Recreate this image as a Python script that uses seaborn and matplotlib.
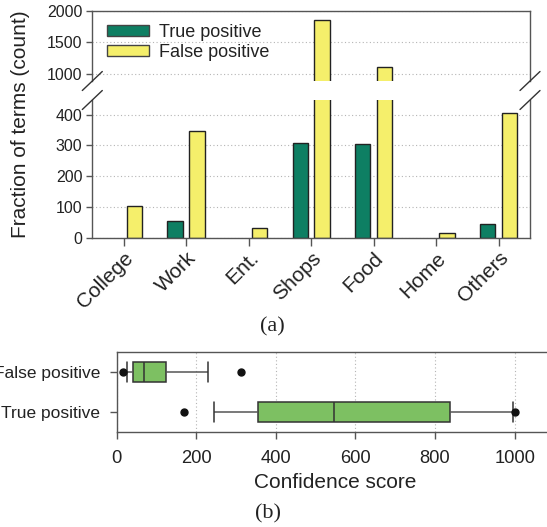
import matplotlib
matplotlib.use("Agg")
import matplotlib.pyplot as plt
from matplotlib.lines import Line2D
import pandas as pd
import seaborn as sns

# ---- data -------------------------------------------------------------
categories = ["College", "Work", "Ent.", "Shops", "Food", "Home", "Others"]
true_pos = [0, 54, 0, 307, 305, 0, 44]
false_pos = [103, 346, 32, 1852, 1113, 14, 405]
series_names = ["True positive", "False positive"]

# confidence scores per detection outcome
fp_scores = [15, 25, 40, 69, 69, 69, 125, 229, 313]
tp_scores = [169, 244, 354, 546, 546, 546, 837, 996, 1000]

# ---- style ------------------------------------------------------------
sns.set_theme(style="ticks")
plt.rcParams["font.family"] = ["Liberation Sans", "DejaVu Sans"]
plt.rcParams["text.color"] = "#222222"
plt.rcParams["axes.labelcolor"] = "#222222"

W, H = 547, 527
fig = plt.figure(figsize=(W / 100, H / 100), dpi=100)


def px_rect(x0, y0, x1, y1):
    """Axes rectangle from pixel corners (top-left origin)."""
    return [x0 / W, 1 - y1 / H, (x1 - x0) / W, (y1 - y0) / H]


ax_top = fig.add_axes(px_rect(92.3, 10.7, 530, 81))
ax_bot = fig.add_axes(px_rect(92.3, 100, 530, 237.7))
ax_box = fig.add_axes(px_rect(116.7, 352.3, 554.4, 432.3))

bars = pd.DataFrame({
    "category": categories * 2,
    "count": true_pos + false_pos,
    "kind": [series_names[0]] * len(categories) + [series_names[1]] * len(categories),
})
palette = {series_names[0]: "#0e7f63", series_names[1]: "#f5ef6b"}

spine_c = "#555555"
grid_kw = dict(linestyle=(0, (1, 2.2)), color="#b5b5b5", linewidth=0.8)

for ax in (ax_top, ax_bot):
    sns.barplot(data=bars, x="category", y="count", hue="kind",
                order=categories, hue_order=series_names, palette=palette,
                width=0.7, gap=0.3, saturation=1, errorbar=None,
                edgecolor="#222222", linewidth=1.0,
                legend=(ax is ax_top), ax=ax)
    # empty categories get no outline
    for p in ax.patches:
        if p.get_height() == 0:
            p.set_linewidth(0)
    ax.set_axisbelow(True)
    ax.yaxis.grid(True, **grid_kw)
    ax.set_xlim(-0.5, len(categories) - 0.5)
    ax.set_xlabel("")
    ax.set_ylabel("")
    for s in ax.spines.values():
        s.set_color(spine_c)
        s.set_linewidth(1.0)
    ax.tick_params(axis="y", length=4, width=1, color=spine_c,
                   labelsize=11.5, pad=3, labelcolor="#222222")

# upper panel (large counts)
ax_top.set_ylim(890, 2000)
ax_top.set_yticks([1000, 1500, 2000])
ax_top.spines["bottom"].set_visible(False)
ax_top.tick_params(axis="x", bottom=False, labelbottom=False)

# lower panel (small counts)
ax_bot.set_ylim(0, 448)
ax_bot.set_yticks([0, 100, 200, 300, 400])
ax_bot.spines["top"].set_visible(False)
ax_bot.tick_params(axis="x", length=5.7, width=1, color=spine_c,
                   labelsize=15, pad=2, labelcolor="#222222")
for lab in ax_bot.get_xticklabels():
    lab.set_rotation(45)
    lab.set_ha("right")
    lab.set_va("top")
    lab.set_rotation_mode("anchor")

# legend
handles, labels = ax_top.get_legend_handles_labels()
leg = ax_top.legend(handles, labels, loc="upper left",
                    bbox_to_anchor=(107.3 / W, 1 - 24 / H),
                    bbox_transform=fig.transFigure, frameon=False, fontsize=13,
                    handlelength=2.33, handleheight=0.52, handletextpad=0.55,
                    labelspacing=0.15, borderpad=0, borderaxespad=0)
for h in leg.legend_handles:
    h.set_edgecolor("#444444")
    h.set_linewidth(1.0)

# axis break marks
for ax, yfrac in ((ax_top, 0.0), (ax_bot, 1.0)):
    pos = ax.get_position()
    yc = pos.y0 + yfrac * pos.height
    for xc in (pos.x0, pos.x1):
        fig.add_artist(Line2D([xc - 10 / W, xc + 10 / W],
                              [yc - 9.5 / H, yc + 9.5 / H],
                              transform=fig.transFigure, color="#333333",
                              linewidth=1.0))

fig.text(21 / W, 1 - 124 / H, "Fraction of terms (count)", rotation=90,
         ha="center", va="center", fontsize=15)
fig.text(272 / W, 1 - 327 / H, "(a)", ha="center", va="center",
         fontsize=16, family=["Liberation Serif", "DejaVu Serif"])

# ---- box plot of confidence scores ------------------------------------
scores = pd.DataFrame({
    "score": fp_scores + tp_scores,
    "kind": [series_names[1]] * len(fp_scores) + [series_names[0]] * len(tp_scores),
})
sns.boxplot(data=scores, x="score", y="kind",
            order=[series_names[1], series_names[0]],
            width=0.5, whis=(12.5, 87.5), color="#7dc062", saturation=1,
            linecolor="#333333", linewidth=1.1, fliersize=5, capwidths=0.5,
            flierprops=dict(marker="o", markerfacecolor="#111111",
                            markeredgecolor="#111111"),
            whiskerprops=dict(color="#555555"),
            ax=ax_box)
ax_box.set_xlim(0, 1100)
ax_box.set_xticks([0, 200, 400, 600, 800, 1000])
ax_box.set_axisbelow(True)
ax_box.xaxis.grid(True, **grid_kw)
ax_box.set_ylabel("")
ax_box.set_xlabel("Confidence score", fontsize=15, labelpad=4)
for s in ax_box.spines.values():
    s.set_color(spine_c)
    s.set_linewidth(1.0)
ax_box.tick_params(axis="x", length=5, width=1, color=spine_c,
                   labelsize=13.2, pad=8, labelcolor="#222222")
ax_box.tick_params(axis="y", length=5, width=1, color=spine_c,
                   labelsize=12.5, pad=7, labelcolor="#222222")

fig.text(268.5 / W, 1 - 514 / H, "(b)", ha="center", va="center",
         fontsize=16, family=["Liberation Serif", "DejaVu Serif"])

fig.savefig("out.png", dpi=100)
